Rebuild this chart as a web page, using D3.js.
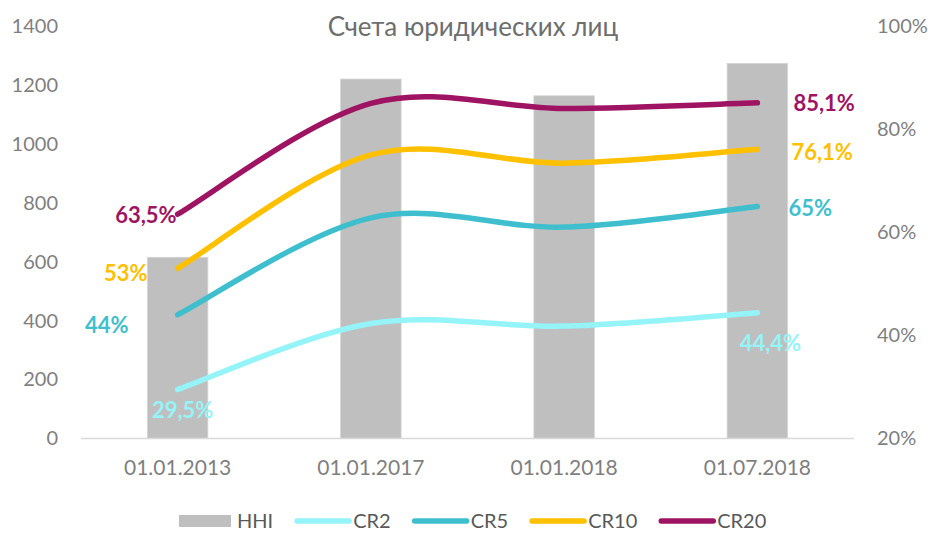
<!DOCTYPE html>
<html>
<head>
<meta charset="utf-8">
<script src="https://cdn.jsdelivr.net/npm/d3@7/dist/d3.min.js"></script>
<style>
  body { margin: 0; background: #fff; }
  text { font-family: Lato, "Open Sans", sans-serif; }
</style>
</head>
<body>
<svg id="chart" width="932" height="533"></svg>
<script>
// Categories (reporting dates)
const categories = ["01.01.2013", "01.01.2017", "01.01.2018", "01.07.2018"];
// Herfindahl–Hirschman index (left axis)
const hhiValues = [615, 1220, 1163, 1273];
// Concentration ratios, % (right axis)
const cr2Values  = [29.5, 42.3, 41.8, 44.4];
const cr5Values  = [44, 62.8, 61, 65];
const cr10Values = [53, 75, 73.4, 76.1];
const cr20Values = [63.5, 85, 84, 85.1];
// Axis ticks
const leftTicks  = [0, 200, 400, 600, 800, 1000, 1200, 1400];
const rightTicks = [20, 40, 60, 80, 100];
const titleText = "Счета юридических лиц";

const series = [
  { name: "CR2",  values: cr2Values,  color: "#95f4f8" },
  { name: "CR5",  values: cr5Values,  color: "#3fbfce" },
  { name: "CR10", values: cr10Values, color: "#ffc000" },
  { name: "CR20", values: cr20Values, color: "#9e1462" }
];

// Where each end label sits relative to its point: [first, last]
const labelLayout = {
  CR2:  [{ dx: 5,   dy: 21, anchor: "middle" }, { dx: 13, dy: 30, anchor: "middle" }],
  CR5:  [{ dx: -49, dy: 10, anchor: "end" },    { dx: 31, dy: 2,  anchor: "start" }],
  CR10: [{ dx: -30, dy: 5,  anchor: "end" },    { dx: 34, dy: 3,  anchor: "start" }],
  CR20: [{ dx: -1,  dy: 1,  anchor: "end" },    { dx: 36, dy: 0,  anchor: "start" }]
};

const svg = d3.select("#chart");
const plot = { left: 81, right: 854, top: 26, bottom: 438.5 };

const x = d3.scaleBand()
  .domain(categories)
  .range([plot.left, plot.right])
  .paddingInner(0.687)
  .paddingOuter(0.3435);
const cx = c => x(c) + x.bandwidth() / 2;

const yLeft = d3.scaleLinear().domain([0, 1400]).range([plot.bottom, plot.top]);
const yRight = d3.scaleLinear().domain([20, 100]).range([plot.bottom, plot.top]);

const tickColor = "#7f7f7f";

// Title
svg.append("text")
  .attr("x", 473).attr("y", 36)
  .attr("text-anchor", "middle")
  .attr("fill", "#6e6e6e")
  .attr("font-size", 26)
  .text(titleText);

// Left axis
const gl = svg.append("g")
  .attr("transform", `translate(${plot.left - 23},0)`)
  .call(d3.axisLeft(yLeft).tickValues(leftTicks).tickSize(0).tickPadding(0)
    .tickFormat(d3.format("d")));
gl.select(".domain").remove();
gl.selectAll("text").attr("fill", tickColor).attr("font-size", 20).attr("font-family", "Lato");

// Right axis
const gr = svg.append("g")
  .attr("transform", `translate(${plot.right + 23},0)`)
  .call(d3.axisRight(yRight).tickValues(rightTicks).tickSize(0).tickPadding(0)
    .tickFormat(d => d + "%"));
gr.select(".domain").remove();
gr.selectAll("text").attr("fill", tickColor).attr("font-size", 20).attr("font-family", "Lato");

// Bottom axis (category labels)
const gb = svg.append("g")
  .attr("transform", `translate(0,${plot.bottom})`)
  .call(d3.axisBottom(x).tickSize(0).tickPadding(22));
gb.select(".domain").remove();
gb.selectAll("text").attr("fill", tickColor).attr("font-size", 21).attr("font-family", "Lato");

// HHI bars
svg.append("g").selectAll("rect")
  .data(categories)
  .join("rect")
  .attr("x", c => x(c))
  .attr("width", x.bandwidth())
  .attr("y", (c, i) => yLeft(hhiValues[i]))
  .attr("height", (c, i) => yLeft(0) - yLeft(hhiValues[i]))
  .attr("fill", "#bfbfbf")
  .attr("stroke", "#d4d4d4")
  .attr("stroke-width", 0.8);

// Category axis line
svg.append("line")
  .attr("x1", plot.left).attr("x2", plot.right)
  .attr("y1", plot.bottom).attr("y2", plot.bottom)
  .attr("stroke", "#d9d9d9").attr("stroke-width", 1.5);

// Smoothed line: cubic Bézier segments with Catmull-Rom tangents,
// end points repeated at the ends of the series.
function smoothPath(pts) {
  const p = d3.path();
  p.moveTo(pts[0][0], pts[0][1]);
  for (let i = 0; i < pts.length - 1; i++) {
    const p0 = pts[Math.max(i - 1, 0)], p1 = pts[i], p2 = pts[i + 1],
          p3 = pts[Math.min(i + 2, pts.length - 1)];
    p.bezierCurveTo(
      p1[0] + (p2[0] - p0[0]) / 6, p1[1] + (p2[1] - p0[1]) / 6,
      p2[0] - (p3[0] - p1[0]) / 6, p2[1] - (p3[1] - p1[1]) / 6,
      p2[0], p2[1]);
  }
  return p.toString();
}

const fmt = v => String(v).replace(".", ",") + "%";

series.forEach(s => {
  const pts = categories.map((c, i) => [cx(c), yRight(s.values[i])]);
  svg.append("path")
    .attr("d", smoothPath(pts))
    .attr("fill", "none")
    .attr("stroke", s.color)
    .attr("stroke-width", 5.5)
    .attr("stroke-linecap", "round");
});

// End labels
series.forEach(s => {
  const ends = [0, s.values.length - 1];
  ends.forEach((idx, k) => {
    const lay = labelLayout[s.name][k];
    svg.append("text")
      .attr("x", cx(categories[idx]) + lay.dx)
      .attr("y", yRight(s.values[idx]) + lay.dy)
      .attr("dy", "0.36em")
      .attr("text-anchor", lay.anchor)
      .attr("fill", s.color)
      .attr("font-size", 22)
      .attr("font-weight", "bold")
      .text(fmt(s.values[idx]));
  });
});

// Legend
const legendY = 521;
const legend = svg.append("g");
const legendItems = [{ name: "HHI", bar: true, color: "#bfbfbf" }]
  .concat(series.map(s => ({ name: s.name, bar: false, color: s.color })));
let lx = 179;
legendItems.forEach(it => {
  if (it.bar) {
    legend.append("rect")
      .attr("x", lx).attr("y", legendY - 6)
      .attr("width", 52).attr("height", 12)
      .attr("fill", it.color);
  } else {
    legend.append("line")
      .attr("x1", lx + 2).attr("x2", lx + 54)
      .attr("y1", legendY).attr("y2", legendY)
      .attr("stroke", it.color).attr("stroke-width", 5.5)
      .attr("stroke-linecap", "round");
  }
  const t = legend.append("text")
    .attr("x", lx + 58).attr("y", legendY)
    .attr("dy", "0.36em")
    .attr("fill", "#595959")
    .attr("font-size", 20)
    .text(it.name);
  lx += 58 + t.node().getComputedTextLength() + 22;
});
</script>
</body>
</html>
